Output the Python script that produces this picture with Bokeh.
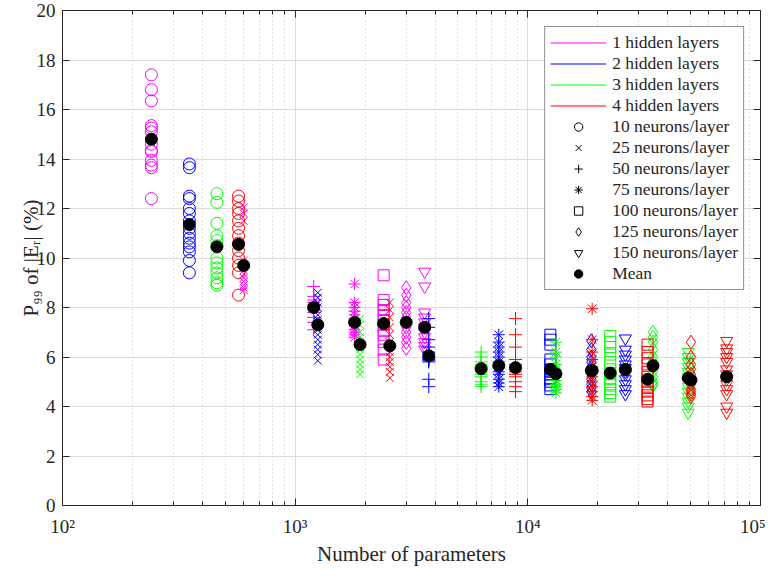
import numpy as np
from bokeh.plotting import figure
from bokeh.models import (FixedTicker, LogAxis, LinearAxis, Legend, LegendItem,
                          Range1d, CustomJSTickFormatter)
from bokeh.embed import file_html
from bokeh.resources import INLINE

# ---------------- data ----------------
layer_labels = ["1 hidden layers", "2 hidden layers", "3 hidden layers", "4 hidden layers"]
neuron_labels = ["10 neurons/layer", "25 neurons/layer", "50 neurons/layer", "75 neurons/layer",
                 "100 neurons/layer", "125 neurons/layer", "150 neurons/layer"]
x_title = "Number of parameters"
y_title = "P\u2089\u2089 of |E\u1d63| (%)"

# number of parameters per configuration (neurons 10,25,50,75,100,125,150)
params_1 = [241, 601, 1201, 1801, 2401, 3001, 3601]
params_2 = [351, 1251, 3751, 7501, 12501, 18751, 26251]
params_3 = [461, 1901, 6301, 13201, 22601, 34501, 48901]
params_4 = [571, 2551, 8851, 18901, 32701, 50251, 71551]

# P99 of |E_r| (%) for each trained network
vals_1 = [
    [17.4, 16.8, 16.35, 15.35, 15.25, 15.1, 14.6, 14.35, 14.3, 13.95, 13.75, 13.65, 12.4],
    [12.05, 11.8, 11.5, 9.9, 9.7, 9.5, 9.35, 9.2, 9.05, 8.9, 8.8, 8.7],
    [8.85, 8.45, 8.3, 8.2, 8.1, 8.0, 7.9, 7.8, 7.6, 7.4, 7.1],
    [8.95, 8.2, 8.0, 7.85, 7.7, 7.55, 7.4, 7.25, 7.1, 7.0, 6.9, 6.8],
    [9.3, 8.3, 8.1, 7.9, 7.7, 7.5, 7.3, 7.1, 6.9, 6.6, 6.3, 5.9],
    [8.8, 8.5, 8.2, 8.0, 7.8, 7.6, 7.4, 7.2, 7.0, 6.8, 6.6, 6.35],
    [9.45, 8.85, 7.8, 7.6, 7.4, 7.2, 7.0, 6.8, 6.6, 6.45, 6.3],
]
vals_2 = [
    [13.8, 13.65, 12.5, 12.4, 12.0, 11.8, 11.5, 11.2, 11.0, 10.8, 10.6, 10.45, 10.25, 9.9, 9.4],
    [8.6, 8.4, 8.2, 8.0, 7.7, 7.5, 7.3, 7.1, 6.9, 6.7, 6.5, 6.3, 6.1, 5.85],
    [7.55, 7.2, 6.7, 6.4, 6.2, 6.0, 5.95, 5.9, 5.85, 5.8, 5.1, 4.8],
    [6.9, 6.6, 6.4, 6.2, 6.0, 5.8, 5.6, 5.4, 5.3, 5.1, 4.95, 4.8],
    [6.9, 6.7, 6.5, 5.9, 5.7, 5.5, 5.4, 5.3, 5.1, 5.0, 4.85, 4.7],
    [6.65, 6.3, 6.0, 5.8, 5.6, 5.4, 5.3, 5.1, 4.9, 4.75, 4.6],
    [6.75, 6.3, 6.1, 5.9, 5.7, 5.55, 5.4, 5.3, 5.1, 4.9, 4.7, 4.5],
]
vals_3 = [
    [12.6, 12.25, 11.4, 10.9, 10.7, 10.5, 10.0, 9.8, 9.6, 9.4, 9.2, 9.0, 8.9],
    [7.55, 7.3, 7.0, 6.8, 6.6, 6.4, 6.3, 6.1, 5.9, 5.7, 5.5, 5.3],
    [6.2, 6.0, 5.8, 5.7, 5.6, 5.5, 5.4, 5.3, 5.2, 5.0, 4.9, 4.8],
    [6.6, 6.2, 6.0, 5.7, 5.5, 5.35, 5.2, 5.05, 4.9, 4.8, 4.7, 4.55],
    [6.85, 6.6, 6.4, 6.1, 5.8, 5.5, 5.3, 5.1, 4.9, 4.7, 4.55, 4.4],
    [7.0, 6.8, 6.6, 6.3, 6.0, 5.8, 5.6, 5.4, 5.2, 5.0, 4.9, 4.85],
    [6.2, 6.0, 5.8, 5.6, 5.4, 5.2, 5.0, 4.8, 4.6, 4.4, 4.2, 4.0, 3.75],
]
vals_4 = [
    [12.5, 12.3, 12.0, 11.8, 11.5, 11.2, 10.9, 10.6, 10.3, 10.0, 9.7, 9.4, 8.5],
    [8.2, 7.9, 7.6, 7.2, 6.9, 6.6, 6.4, 6.2, 6.0, 5.8, 5.6, 5.4, 5.15],
    [7.55, 6.9, 6.4, 5.9, 5.7, 5.6, 5.5, 5.4, 5.3, 5.2, 5.0, 4.8, 4.6],
    [7.95, 6.7, 6.2, 5.9, 5.6, 5.4, 5.2, 5.0, 4.8, 4.6, 4.4, 4.25],
    [6.5, 6.2, 5.95, 5.7, 5.4, 5.2, 5.0, 4.8, 4.6, 4.45, 4.3, 4.2],
    [6.6, 6.0, 5.7, 5.5, 5.3, 5.1, 4.9, 4.7, 4.6, 4.5, 4.4],
    [6.65, 6.35, 6.2, 6.0, 5.8, 5.5, 5.3, 5.1, 4.9, 4.7, 4.5, 4.0, 3.75],
]

means_1 = [14.8, 9.7, 8.0, 7.4, 7.35, 7.4, 7.2]
means_2 = [11.35, 7.3, 6.05, 5.65, 5.5, 5.45, 5.5]
means_3 = [10.45, 6.5, 5.53, 5.32, 5.35, 5.65, 5.15]
means_4 = [10.55, 6.45, 5.57, 5.45, 5.1, 5.07, 5.2]

x_major = [100, 1000, 10000, 100000]
x_minor = [200, 300, 400, 500, 600, 700, 800, 900,
           2000, 3000, 4000, 5000, 6000, 7000, 8000, 9000,
           20000, 30000, 40000, 50000, 60000, 70000, 80000, 90000]
y_ticks = [0, 2, 4, 6, 8, 10, 12, 14, 16, 18, 20]

# off-chart placeholder used only so the legend-key renderers have one row
legend_key_x = [1000]
legend_key_y = [-100]

# ---------------- styles ----------------
colors = ["#FF00FF", "#0000FF", "#00FF00", "#FF0000"]
markers = ["circle", "x", "cross", "asterisk", "square", "diamond", "inverted_triangle"]
msizes = [12, 11, 13, 12, 11, 14, 12]
FONT = "Liberation Serif"
AX = "#262626"

params_all = [params_1, params_2, params_3, params_4]
vals_all = [vals_1, vals_2, vals_3, vals_4]
means_all = [means_1, means_2, means_3, means_4]

p = figure(width=765, height=568, x_axis_type="log",
           x_range=Range1d(100, 100000), y_range=Range1d(0, 20),
           output_backend="svg", toolbar_location=None,
           min_border_left=62, min_border_right=5, min_border_top=10, min_border_bottom=40,
           background_fill_color="white", border_fill_color="white")

p.outline_line_color = AX
p.outline_line_width = 1

# axes
p.xaxis.ticker = FixedTicker(ticks=x_major, minor_ticks=x_minor)
p.xaxis.formatter = CustomJSTickFormatter(code="""
    const sup = {'0':'\u2070','1':'\u00b9','2':'\u00b2','3':'\u00b3','4':'\u2074',
                 '5':'\u2075','6':'\u2076','7':'\u2077','8':'\u2078','9':'\u2079','-':'\u207b'};
    const e = String(Math.round(Math.log10(tick)));
    return '10' + e.split('').map(c => sup[c]).join('');
""")
p.yaxis.ticker = FixedTicker(ticks=y_ticks)
for ax in (p.xaxis[0], p.yaxis[0]):
    ax.axis_line_color = AX
    ax.major_tick_line_color = AX
    ax.minor_tick_line_color = AX
    ax.major_tick_in = 7
    ax.major_tick_out = 0
    ax.minor_tick_in = 4
    ax.minor_tick_out = 0
    ax.major_label_text_font = FONT
    ax.major_label_text_font_size = "19px"
    ax.major_label_text_color = AX
    ax.axis_label_text_font = FONT
    ax.axis_label_text_font_size = "21px"
    ax.axis_label_text_font_style = "normal"
    ax.axis_label_text_color = AX
p.xaxis.axis_label = x_title
p.yaxis.axis_label = y_title
p.xaxis.major_label_standoff = 10
p.xaxis.axis_label_standoff = 2
p.xaxis.major_label_text_line_height = 0.9
p.xaxis.axis_label_text_line_height = 0.9
p.yaxis.major_label_standoff = 7
p.yaxis.axis_label_standoff = -9
p.yaxis.minor_tick_line_color = None

blank = CustomJSTickFormatter(code="return ''")
top_ax = LogAxis(ticker=FixedTicker(ticks=x_major, minor_ticks=x_minor), formatter=blank,
                 axis_line_color=None, major_tick_line_color=AX, minor_tick_line_color=AX,
                 major_tick_in=7, major_tick_out=0, minor_tick_in=4, minor_tick_out=0,
                 major_label_standoff=0, major_label_text_font_size="1px")
right_ax = LinearAxis(ticker=FixedTicker(ticks=y_ticks), formatter=blank,
                      axis_line_color=None, major_tick_line_color=AX, minor_tick_line_color=None,
                      major_tick_in=7, major_tick_out=0,
                      major_label_standoff=0, major_label_text_font_size="1px")
p.add_layout(top_ax, "above")
p.add_layout(right_ax, "right")

# grid
p.xgrid.grid_line_color = "#dcdcdc"
p.xgrid.grid_line_width = 1
p.xgrid.minor_grid_line_color = "#c4c4c4"
p.xgrid.minor_grid_line_dash = "1 3"
p.ygrid.grid_line_color = "#dcdcdc"
p.ygrid.grid_line_width = 1

# legend-key renderers first (off chart, only their legend glyphs show)
line_keys = []
for i in range(4):
    line_keys.append(p.line(legend_key_x, legend_key_y, line_color=colors[i], line_width=1))
marker_keys = []
for j in range(7):
    marker_keys.append(p.scatter(legend_key_x, legend_key_y, marker=markers[j], size=msizes[j],
                                 line_color="black", fill_color=None, line_width=1))

# data markers
for i in range(4):
    for j in range(7):
        ys = vals_all[i][j]
        xs = [params_all[i][j]] * len(ys)
        p.scatter(xs, ys, marker=markers[j], size=msizes[j], line_color=colors[i],
                  fill_color=None, line_width=1)

# means
mx = [x for pl in params_all for x in pl]
my = [m for ml in means_all for m in ml]
mean_r = p.scatter(mx, my, marker="circle", size=12, fill_color="black", line_color="black")

items = []
for i in range(4):
    items.append(LegendItem(label=layer_labels[i], renderers=[line_keys[i]]))
for j in range(7):
    items.append(LegendItem(label=neuron_labels[j], renderers=[marker_keys[j]]))
items.append(LegendItem(label="Mean", renderers=[mean_r]))

legend = Legend(items=items, location="top_right", margin=16,
                label_text_font=FONT, label_text_font_size="17.5px", label_text_color=AX,
                glyph_width=56, glyph_height=21, label_height=21, label_standoff=6,
                spacing=0, padding=5, border_line_color=AX, border_line_width=1,
                background_fill_color="white", background_fill_alpha=1.0)
p.add_layout(legend)

open("out.html", "w").write(file_html(p, INLINE))
